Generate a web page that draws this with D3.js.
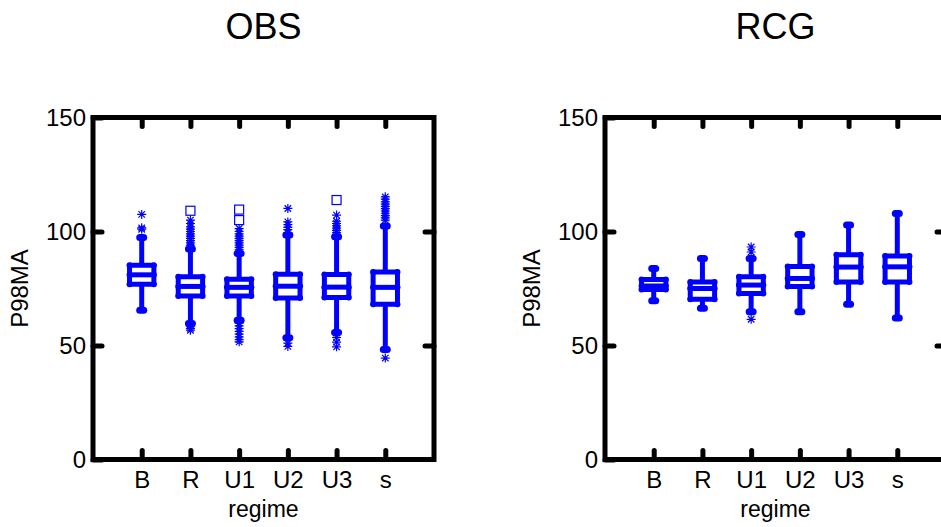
<!DOCTYPE html>
<html>
<head>
<meta charset="utf-8">
<script src="https://cdn.jsdelivr.net/npm/d3@7"></script>
<style>
  body { margin: 0; background: #fff; }
  svg { display: block; font-family: "Liberation Sans", Arial, sans-serif; }
</style>
</head>
<body>
<svg id="chart" width="941" height="527"></svg>
<script>
const regimes = ["B", "R", "U1", "U2", "U3", "s"];
const yTicks = [0, 50, 100, 150];

// OBS panel
const obsLow = [65.5, 59.7, 61.1, 53.4, 55.7, 48.3];
const obsQ1 = [76.9, 71.7, 71.7, 70.8, 71.1, 68.1];
const obsMedian = [81.0, 75.9, 75.5, 76.0, 75.6, 75.5];
const obsQ3 = [85.2, 80.2, 79.1, 81.3, 81.1, 82.2];
const obsHigh = [97.4, 92.3, 90.4, 98.5, 97.7, 102.4];
const obsStars = [
  [101.0, 101.6, 107.5],
  [93.0, 94.0, 95.0, 96.0, 97.0, 98.0, 99.0, 100.0, 101.0, 102.0, 103.5, 105.0, 58.5, 57.5, 56.7],
  [91.0, 92.0, 93.0, 94.0, 95.0, 96.0, 97.0, 98.0, 99.0, 100.0, 101.3, 59.8, 58.6, 57.4, 56.2, 55.0, 53.8, 52.6, 51.6],
  [99.5, 100.8, 101.8, 103.0, 104.2, 110.1, 51.0, 49.6],
  [98.5, 99.5, 100.5, 101.5, 102.5, 103.5, 104.5, 107.2, 55.4, 53.5, 51.5, 49.4],
  [105.0, 106.0, 107.0, 108.0, 109.0, 110.0, 111.0, 112.0, 113.0, 114.2, 115.2, 44.5]
];
const obsSquares = [[], [109.1], [105.0, 109.6], [], [113.8], []];

// RCG panel
const rcgLow = [69.6, 66.3, 64.8, 64.8, 68.1, 62.1];
const rcgQ1 = [74.6, 70.3, 72.8, 75.9, 77.9, 77.9];
const rcgMedian = [76.1, 75.0, 76.5, 79.4, 84.4, 84.5];
const rcgQ3 = [78.9, 77.8, 80.1, 84.7, 89.8, 89.3];
const rcgHigh = [83.8, 88.2, 88.2, 98.7, 102.8, 107.9];
const rcgStars = [[], [], [91.0, 93.2, 61.5], [], [], []];
const rcgSquares = [[], [], [], [], [], []];

const panels = [
  {title: "OBS", left: 93, low: obsLow, q1: obsQ1, med: obsMedian, q3: obsQ3, high: obsHigh, stars: obsStars, squares: obsSquares},
  {title: "RCG", left: 605, low: rcgLow, q1: rcgQ1, med: rcgMedian, q3: rcgQ3, high: rcgHigh, stars: rcgStars, squares: rcgSquares}
];

const svg = d3.select("#chart");
const plotTop = 117.5, plotBottom = 459.5, panelW = 341;
const blue = "#0000ff";

// matlab style '*' marker: a plus and a cross
const asterisk = {
  draw(ctx, size) {
    const r = Math.sqrt(size) / 2;
    const c = r * 0.72;
    ctx.moveTo(0, -r); ctx.lineTo(0, r);
    ctx.moveTo(-r, 0); ctx.lineTo(r, 0);
    ctx.moveTo(-c, -c); ctx.lineTo(c, c);
    ctx.moveTo(-c, c); ctx.lineTo(c, -c);
  }
};

panels.forEach(p => {
  const x = d3.scaleLinear().domain([0, 7]).range([p.left, p.left + panelW]);
  const y = d3.scaleLinear().domain([0, 150]).range([plotBottom, plotTop]);
  const g = svg.append("g");
  const boxes = regimes.map((r, i) => ({
    i: i + 1, low: p.low[i], q1: p.q1[i], med: p.med[i], q3: p.q3[i], high: p.high[i],
    stars: p.stars[i], squares: p.squares[i]
  }));

  // axes: ticks inward on all four sides
  const styleAxis = a => {
    a.select(".domain").remove();
    a.selectAll(".tick line").attr("stroke", "#000").attr("stroke-width", 5).attr("stroke-linecap", "round");
    a.selectAll(".tick text").attr("font-size", 24).attr("fill", "#000").attr("font-family", "Liberation Sans, Arial, sans-serif");
  };
  g.append("g").attr("transform", `translate(${p.left},0)`)
    .call(d3.axisLeft(y).tickValues(yTicks).tickSizeInner(-9).tickSizeOuter(0).tickPadding(7))
    .call(styleAxis);
  g.append("g").attr("transform", `translate(${p.left + panelW},0)`)
    .call(d3.axisRight(y).tickValues(yTicks.slice(1, 3)).tickSizeInner(-9).tickSizeOuter(0).tickFormat(""))
    .call(styleAxis);
  g.append("g").attr("transform", `translate(0,${plotBottom})`)
    .call(d3.axisBottom(x).tickValues(d3.range(1, 7)).tickFormat(d => regimes[d - 1]).tickSizeInner(-9).tickSizeOuter(0).tickPadding(11.5))
    .call(styleAxis);
  g.append("g").attr("transform", `translate(0,${plotTop})`)
    .call(d3.axisTop(x).tickValues(d3.range(1, 7)).tickSizeInner(-9).tickSizeOuter(0).tickFormat(""))
    .call(styleAxis);

  g.append("rect")
    .attr("x", p.left).attr("y", plotTop)
    .attr("width", panelW).attr("height", plotBottom - plotTop)
    .attr("fill", "none").attr("stroke", "#000").attr("stroke-width", 5);

  // labels
  g.append("text").attr("x", p.left + panelW / 2).attr("y", 39)
    .attr("text-anchor", "middle").attr("font-size", 36).text(p.title);
  g.append("text").attr("x", p.left + panelW / 2).attr("y", 517)
    .attr("text-anchor", "middle").attr("font-size", 23).text("regime");
  g.append("text")
    .attr("transform", `translate(${p.left - 65},${(plotTop + plotBottom) / 2}) rotate(-90)`)
    .attr("text-anchor", "middle").attr("font-size", 24).text("P98MA");

  const hw = x(0.25) - x(0);
  const bx = g.selectAll("g.box").data(boxes).join("g").attr("class", "box");

  // whiskers
  bx.append("line")
    .attr("x1", d => x(d.i)).attr("x2", d => x(d.i))
    .attr("y1", d => y(d.low)).attr("y2", d => y(d.high))
    .attr("stroke", blue).attr("stroke-width", 5);
  ["low", "high"].forEach(k => {
    bx.append("line")
      .attr("x1", d => x(d.i) - 2).attr("x2", d => x(d.i) + 2)
      .attr("y1", d => y(d[k])).attr("y2", d => y(d[k]))
      .attr("stroke", blue).attr("stroke-width", 7).attr("stroke-linecap", "round");
  });

  // box
  bx.append("rect")
    .attr("x", d => x(d.i) - hw).attr("width", 2 * hw)
    .attr("y", d => y(d.q3)).attr("height", d => y(d.q1) - y(d.q3))
    .attr("fill", "#fff").attr("stroke", blue).attr("stroke-width", 5).attr("stroke-linejoin", "round");
  bx.append("line")
    .attr("x1", d => x(d.i) - hw).attr("x2", d => x(d.i) + hw)
    .attr("y1", d => y(d.med)).attr("y2", d => y(d.med))
    .attr("stroke", blue).attr("stroke-width", 5);
  bx.each(function(d) {
    const pts = [];
    [d.q1, d.q3, d.med].forEach(v => [-hw, hw].forEach(o => pts.push([x(d.i) + o, y(v)])));
    d3.select(this).selectAll("circle.corner").data(pts).join("circle")
      .attr("class", "corner").attr("cx", c => c[0]).attr("cy", c => c[1])
      .attr("r", 3).attr("fill", blue);
  });

  // outliers
  const star = d3.symbol().type(asterisk).size(81);
  bx.each(function(d) {
    const s = d3.select(this);
    s.selectAll("path.star").data(d.stars).join("path")
      .attr("class", "star")
      .attr("d", star)
      .attr("transform", v => `translate(${x(d.i)},${y(v)})`)
      .attr("fill", "none").attr("stroke", blue).attr("stroke-width", 1.2);
    s.selectAll("rect.sq").data(d.squares).join("rect")
      .attr("class", "sq")
      .attr("x", x(d.i) - 4.5).attr("width", 9)
      .attr("y", v => y(v) - 4.5).attr("height", 9)
      .attr("fill", "none").attr("stroke", blue).attr("stroke-width", 1.2);
  });
});
</script>
</body>
</html>
